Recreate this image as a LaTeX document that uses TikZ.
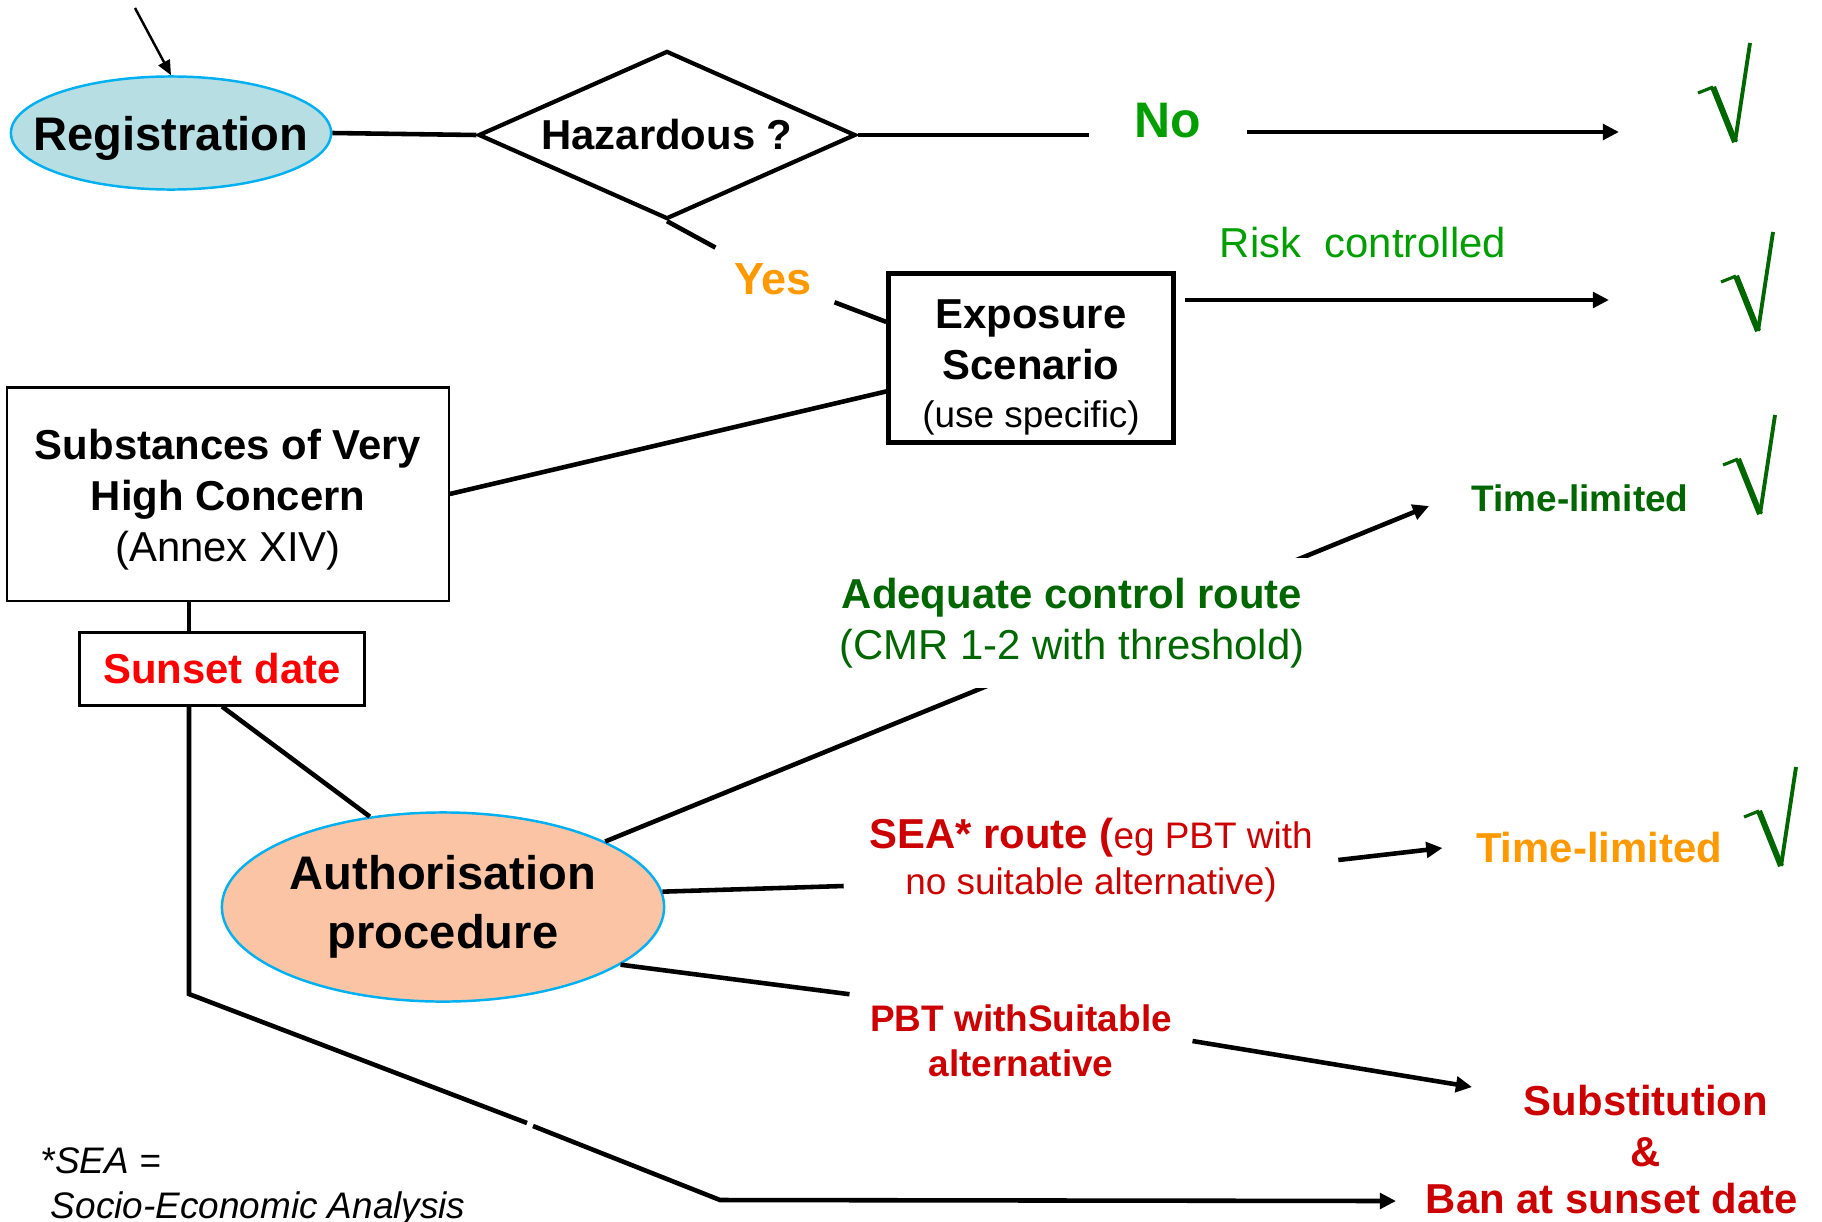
\documentclass[tikz,border=0pt]{standalone}
\usepackage{fontspec}
\setmainfont{Liberation Sans}
\usetikzlibrary{arrows.meta,shapes.geometric}

\definecolor{regblue}{RGB}{183,222,226}
\definecolor{authpeach}{RGB}{251,197,165}
\definecolor{rimcyan}{RGB}{0,176,240}
\definecolor{nogreen}{RGB}{0,158,0}
\definecolor{okgreen}{RGB}{0,102,0}
\definecolor{yesorange}{RGB}{255,153,0}
\definecolor{sunred}{RGB}{255,0,0}
\definecolor{banred}{RGB}{204,0,0}

\newcommand{\bigfont}{\fontsize{13.4}{15.9}\selectfont}
\newcommand{\midfont}{\fontsize{11.9}{14.5}\selectfont}
\newcommand{\smallfont}{\fontsize{10.5}{12.8}\selectfont}

\tikzset{
	link/.style={line width=1.3pt},
	thin link/.style={line width=0.7pt},
	arrowto/.style={-{Triangle[length=4.6pt,width=4.4pt]}},
	box/.style={draw, rectangle, inner sep=0pt, align=center},
	bubble/.style={draw=rimcyan, ellipse, line width=0.7pt, inner sep=0pt, align=center},
	okmark/.pic={
		\draw[okgreen, line width=0.9pt] (-37,-49) -- (-22,-55);
		\draw[okgreen, line width=1.7pt] (-22,-55) -- (0,0);
		\draw[okgreen, line width=1.1pt] (0,0) -- (15,-99);
	}
}

\begin{document}
\begin{tikzpicture}[x=0.01cm, y=-0.01cm,
	every node/.style={font=\bfseries\midfont, align=center, inner sep=0pt}]
	\useasboundingbox (0,0) rectangle (1822,1221);
	
	%%%%% START %%%%%
	
	\node[bubble, fill=regblue, minimum width=3.2cm, minimum height=1.13cm, inner xsep=-0.25cm, text depth=0pt] (reg) at (171,133) {\bigfont Registration};
	\node[diamond, draw, line width=1.2pt, aspect=2.24, minimum width=3.77cm, minimum height=1.68cm] (haz) at (667,135) {Hazardous ?};
	\node[text=nogreen, font=\bfseries\fontsize{14.2}{16}\selectfont, inner xsep=0.45cm] (no) at (1168,121) {No};
	\node[text=yesorange, font=\bfseries\fontsize{12.8}{15}\selectfont, inner xsep=0.22cm, inner ysep=0.15cm] (yes) at (773,279) {Yes};
	
	\node[box, line width=1.2pt, minimum width=2.85cm, minimum height=1.69cm] (expo) at (1031,358) {\rule{0pt}{13.4pt}Exposure\\Scenario\\[-0.8pt]{\mdseries\smallfont (use specific)}};
	\node[text=nogreen, font=\mdseries\midfont] (risk) at (1363,243) {Risk~ controlled};
	
	\node[box, line width=0.6pt, minimum width=4.41cm, minimum height=2.13cm] (svhc) at (228,494) {\rule{0pt}{1em}Substances of Very\\High Concern\\{\mdseries (Annex XIV)}};
	\node[box, line width=0.85pt, minimum width=2.84cm, minimum height=0.72cm, text=sunred] (sunset) at (222,669) {Sunset date};
	
	\node[bubble, fill=authpeach, minimum width=4.42cm, minimum height=1.89cm] (auth) at (443,907) {\bigfont Authorisation\\[2.3pt]\bigfont procedure};
	
	\node[text=okgreen, font=\bfseries\smallfont] (tlg) at (1580,498) {Time-limited};
	\node[text=yesorange, inner xsep=0.33cm] (tlo) at (1599,848) {Time-limited};
	\node[text=banred, font=\mdseries\smallfont, inner xsep=0.25cm] (sea) at (1091,860) {{\bfseries\midfont SEA* route (}eg PBT with\\[0.3pt]no suitable alternative)};
	\node[text=banred, font=\bfseries\smallfont, inner xsep=0.2cm, inner ysep=0.1cm] (pbt) at (1021,1041) {PBT withSuitable\\alternative};
	\node[text=banred] (subst) at (1646,1126) {Substitution\\\&};
	\node[text=banred] (ban) at (1612,1199) {Ban at sunset date};
	\node[anchor=north west, align=left, font=\mdseries\itshape\smallfont] (foot) at (40,1147) {*SEA =\\\ Socio-Economic Analysis};
	
	\coordinate (entry) at (135,8);
	\coordinate (tipNo) at (1619,132);
	\coordinate (tipRisk) at (1609,300);
	\coordinate (tipTime) at (1429,506);
	\coordinate (tipSub) at (1472,1087);
	\coordinate (bend) at (189,994);
	\coordinate (gapA) at (527,1123);
	\coordinate (gapB) at (533,1126);
	\coordinate (corner) at (720,1200);
	\coordinate (tipBan) at (1396,1201);
	
	\draw[thin link, -{Triangle[length=4.2pt,width=3.6pt]}] (entry) -- (reg.north);
	\draw[link] (reg.east) -- (haz.west);
	\draw[link] (haz.east) -- (haz.east -| no.west);
	\draw[link, arrowto] (no.east |- tipNo) -- (tipNo);
	\draw[link] (haz.south) -- (yes);
	\draw[link] (yes) -- (expo.166);
	\draw[link, arrowto, shorten <=0.09cm] (expo.east |- tipRisk) -- (tipRisk);
	\draw[link] (svhc.east) -- (expo.193);
	
	\draw[link] (svhc.south -| bend) -- (sunset.north -| bend);
	\draw[link] (sunset.south -| bend) -- (bend) -- (gapA);
	\draw[link, arrowto] (gapB) -- (corner) -- (tipBan);
	\draw[link] (sunset.south) -- (auth.129);
	
	\draw[link, arrowto] (auth.22) -- (tipTime);
	\node[text=okgreen, fill=white, inner xsep=0.1cm, inner ysep=0.2cm] (adq) at (1072,623) {Adequate control route\\{\mdseries (CMR 1-2 with threshold)}};
	
	\draw[link] (auth.4) -- (sea.186);
	\draw[link, arrowto] (sea.east) -- (tlo.west);
	\draw[link] (auth.-18) -- (pbt.north west);
	\draw[link, arrowto] (pbt.east) -- (tipSub);
	
	\pic at (1735,142) {okmark};
	\pic at (1758,331) {okmark};
	\pic at (1760,514) {okmark};
	\pic at (1781,866) {okmark};
	
	%%%%% END %%%%%
\end{tikzpicture}
\end{document}
